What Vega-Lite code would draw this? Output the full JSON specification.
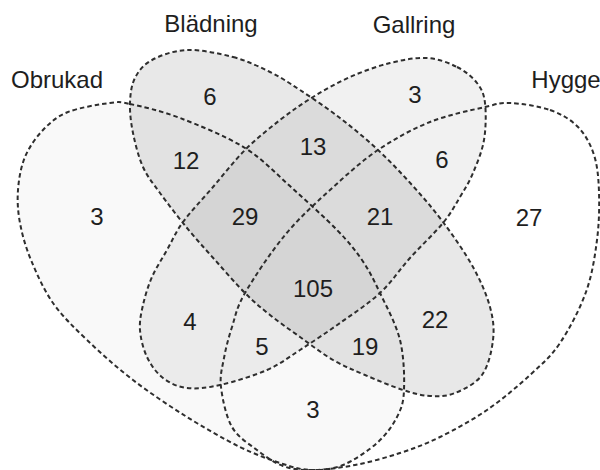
{
  "$schema": "https://vega.github.io/schema/vega-lite/v6.json",
  "width": 600,
  "height": 470,
  "autosize": "none",
  "padding": 0,
  "background": "white",
  "config": {"view": {"stroke": null}},
  "datasets": {
    "shapes": [
      {"s": "Obrukad", "i": 0, "x": 110, "y": 103},
      {"s": "Obrukad", "i": 1, "x": 130, "y": 104},
      {"s": "Obrukad", "i": 2, "x": 180, "y": 118},
      {"s": "Obrukad", "i": 3, "x": 245, "y": 148},
      {"s": "Obrukad", "i": 4, "x": 292, "y": 188},
      {"s": "Obrukad", "i": 5, "x": 337, "y": 230},
      {"s": "Obrukad", "i": 6, "x": 362, "y": 260},
      {"s": "Obrukad", "i": 7, "x": 380, "y": 293},
      {"s": "Obrukad", "i": 8, "x": 400, "y": 340},
      {"s": "Obrukad", "i": 9, "x": 404, "y": 390},
      {"s": "Obrukad", "i": 10, "x": 397, "y": 417},
      {"s": "Obrukad", "i": 11, "x": 377, "y": 443},
      {"s": "Obrukad", "i": 12, "x": 343, "y": 465},
      {"s": "Obrukad", "i": 13, "x": 312, "y": 470},
      {"s": "Obrukad", "i": 14, "x": 283, "y": 464},
      {"s": "Obrukad", "i": 15, "x": 240, "y": 447},
      {"s": "Obrukad", "i": 16, "x": 187, "y": 417},
      {"s": "Obrukad", "i": 17, "x": 133, "y": 380},
      {"s": "Obrukad", "i": 18, "x": 87, "y": 340},
      {"s": "Obrukad", "i": 19, "x": 53, "y": 303},
      {"s": "Obrukad", "i": 20, "x": 31, "y": 260},
      {"s": "Obrukad", "i": 21, "x": 20, "y": 223},
      {"s": "Obrukad", "i": 22, "x": 18, "y": 190},
      {"s": "Obrukad", "i": 23, "x": 25, "y": 157},
      {"s": "Obrukad", "i": 24, "x": 43, "y": 130},
      {"s": "Obrukad", "i": 25, "x": 68, "y": 112},

      {"s": "Blädning", "i": 0, "x": 187, "y": 50},
      {"s": "Blädning", "i": 1, "x": 233, "y": 57},
      {"s": "Blädning", "i": 2, "x": 270, "y": 72},
      {"s": "Blädning", "i": 3, "x": 300, "y": 90},
      {"s": "Blädning", "i": 4, "x": 340, "y": 118},
      {"s": "Blädning", "i": 5, "x": 378, "y": 150},
      {"s": "Blädning", "i": 6, "x": 412, "y": 185},
      {"s": "Blädning", "i": 7, "x": 443, "y": 222},
      {"s": "Blädning", "i": 8, "x": 473, "y": 267},
      {"s": "Blädning", "i": 9, "x": 490, "y": 307},
      {"s": "Blädning", "i": 10, "x": 493, "y": 340},
      {"s": "Blädning", "i": 11, "x": 482, "y": 375},
      {"s": "Blädning", "i": 12, "x": 455, "y": 393},
      {"s": "Blädning", "i": 13, "x": 430, "y": 396},
      {"s": "Blädning", "i": 14, "x": 403, "y": 390},
      {"s": "Blädning", "i": 15, "x": 365, "y": 375},
      {"s": "Blädning", "i": 16, "x": 333, "y": 360},
      {"s": "Blädning", "i": 17, "x": 300, "y": 337},
      {"s": "Blädning", "i": 18, "x": 270, "y": 315},
      {"s": "Blädning", "i": 19, "x": 245, "y": 293},
      {"s": "Blädning", "i": 20, "x": 215, "y": 260},
      {"s": "Blädning", "i": 21, "x": 187, "y": 228},
      {"s": "Blädning", "i": 22, "x": 160, "y": 193},
      {"s": "Blädning", "i": 23, "x": 143, "y": 167},
      {"s": "Blädning", "i": 24, "x": 133, "y": 133},
      {"s": "Blädning", "i": 25, "x": 130, "y": 103},
      {"s": "Blädning", "i": 26, "x": 135, "y": 78},
      {"s": "Blädning", "i": 27, "x": 152, "y": 60},

      {"s": "Gallring", "i": 0, "x": 427, "y": 58},
      {"s": "Gallring", "i": 1, "x": 457, "y": 67},
      {"s": "Gallring", "i": 2, "x": 477, "y": 83},
      {"s": "Gallring", "i": 3, "x": 485, "y": 103},
      {"s": "Gallring", "i": 4, "x": 484, "y": 140},
      {"s": "Gallring", "i": 5, "x": 473, "y": 173},
      {"s": "Gallring", "i": 6, "x": 460, "y": 197},
      {"s": "Gallring", "i": 7, "x": 443, "y": 223},
      {"s": "Gallring", "i": 8, "x": 410, "y": 258},
      {"s": "Gallring", "i": 9, "x": 380, "y": 293},
      {"s": "Gallring", "i": 10, "x": 340, "y": 323},
      {"s": "Gallring", "i": 11, "x": 300, "y": 350},
      {"s": "Gallring", "i": 12, "x": 267, "y": 370},
      {"s": "Gallring", "i": 13, "x": 220, "y": 385},
      {"s": "Gallring", "i": 14, "x": 187, "y": 388},
      {"s": "Gallring", "i": 15, "x": 163, "y": 378},
      {"s": "Gallring", "i": 16, "x": 147, "y": 357},
      {"s": "Gallring", "i": 17, "x": 140, "y": 330},
      {"s": "Gallring", "i": 18, "x": 143, "y": 305},
      {"s": "Gallring", "i": 19, "x": 152, "y": 277},
      {"s": "Gallring", "i": 20, "x": 167, "y": 250},
      {"s": "Gallring", "i": 21, "x": 183, "y": 222},
      {"s": "Gallring", "i": 22, "x": 213, "y": 187},
      {"s": "Gallring", "i": 23, "x": 245, "y": 150},
      {"s": "Gallring", "i": 24, "x": 280, "y": 120},
      {"s": "Gallring", "i": 25, "x": 313, "y": 97},
      {"s": "Gallring", "i": 26, "x": 350, "y": 77},
      {"s": "Gallring", "i": 27, "x": 390, "y": 63},

      {"s": "Hygge", "i": 0, "x": 510, "y": 103},
      {"s": "Hygge", "i": 1, "x": 550, "y": 110},
      {"s": "Hygge", "i": 2, "x": 578, "y": 127},
      {"s": "Hygge", "i": 3, "x": 594, "y": 155},
      {"s": "Hygge", "i": 4, "x": 599, "y": 192},
      {"s": "Hygge", "i": 5, "x": 597, "y": 240},
      {"s": "Hygge", "i": 6, "x": 586, "y": 292},
      {"s": "Hygge", "i": 7, "x": 560, "y": 343},
      {"s": "Hygge", "i": 8, "x": 530, "y": 375},
      {"s": "Hygge", "i": 9, "x": 487, "y": 410},
      {"s": "Hygge", "i": 10, "x": 440, "y": 437},
      {"s": "Hygge", "i": 11, "x": 400, "y": 453},
      {"s": "Hygge", "i": 12, "x": 355, "y": 465},
      {"s": "Hygge", "i": 13, "x": 312, "y": 470},
      {"s": "Hygge", "i": 14, "x": 283, "y": 466},
      {"s": "Hygge", "i": 15, "x": 257, "y": 450},
      {"s": "Hygge", "i": 16, "x": 232, "y": 427},
      {"s": "Hygge", "i": 17, "x": 221, "y": 387},
      {"s": "Hygge", "i": 18, "x": 224, "y": 358},
      {"s": "Hygge", "i": 19, "x": 232, "y": 327},
      {"s": "Hygge", "i": 20, "x": 245, "y": 293},
      {"s": "Hygge", "i": 21, "x": 285, "y": 235},
      {"s": "Hygge", "i": 22, "x": 330, "y": 190},
      {"s": "Hygge", "i": 23, "x": 378, "y": 150},
      {"s": "Hygge", "i": 24, "x": 430, "y": 122},
      {"s": "Hygge", "i": 25, "x": 485, "y": 107}
    ],
    "labels": [
      {"t": "Obrukad", "x": 57, "y": 81},
      {"t": "Blädning", "x": 211, "y": 25},
      {"t": "Gallring", "x": 414, "y": 26},
      {"t": "Hygge", "x": 566, "y": 81},
      {"t": "3", "x": 97, "y": 218},
      {"t": "6", "x": 210, "y": 98},
      {"t": "3", "x": 415, "y": 96},
      {"t": "27", "x": 529, "y": 219},
      {"t": "12", "x": 186, "y": 162},
      {"t": "13", "x": 313, "y": 148},
      {"t": "6", "x": 442, "y": 161},
      {"t": "29", "x": 245, "y": 218},
      {"t": "21", "x": 380, "y": 218},
      {"t": "105", "x": 313, "y": 290},
      {"t": "4", "x": 190, "y": 323},
      {"t": "5", "x": 262, "y": 348},
      {"t": "19", "x": 365, "y": 348},
      {"t": "22", "x": 435, "y": 321},
      {"t": "3", "x": 313, "y": 411}
    ]
  },
  "encoding": {
    "x": {"field": "x", "type": "quantitative", "scale": {"domain": [0, 600], "nice": false, "zero": false}, "axis": null},
    "y": {"field": "y", "type": "quantitative", "scale": {"domain": [0, 470], "nice": false, "zero": false, "reverse": true}, "axis": null}
  },
  "layer": [
    {
      "data": {"name": "shapes"},
      "transform": [{"filter": "datum.s === 'Obrukad'"}],
      "mark": {"type": "line", "interpolate": "cardinal-closed", "fill": "#000000", "fillOpacity": 0.025, "stroke": "#2e2e2e", "strokeWidth": 2, "strokeDash": [4.5, 3]},
      "encoding": {"order": {"field": "i", "type": "quantitative"}}
    },
    {
      "data": {"name": "shapes"},
      "transform": [{"filter": "datum.s === 'Blädning'"}],
      "mark": {"type": "line", "interpolate": "cardinal-closed", "fill": "#000000", "fillOpacity": 0.09, "stroke": "#2e2e2e", "strokeWidth": 2, "strokeDash": [4.5, 3]},
      "encoding": {"order": {"field": "i", "type": "quantitative"}}
    },
    {
      "data": {"name": "shapes"},
      "transform": [{"filter": "datum.s === 'Gallring'"}],
      "mark": {"type": "line", "interpolate": "cardinal-closed", "fill": "#000000", "fillOpacity": 0.055, "stroke": "#2e2e2e", "strokeWidth": 2, "strokeDash": [4.5, 3]},
      "encoding": {"order": {"field": "i", "type": "quantitative"}}
    },
    {
      "data": {"name": "shapes"},
      "transform": [{"filter": "datum.s === 'Hygge'"}],
      "mark": {"type": "line", "interpolate": "cardinal-closed", "fill": "#ffffff", "fillOpacity": 0, "stroke": "#2e2e2e", "strokeWidth": 2, "strokeDash": [4.5, 3]},
      "encoding": {"order": {"field": "i", "type": "quantitative"}}
    },
    {
      "data": {"name": "labels"},
      "mark": {"type": "text", "font": "Liberation Sans", "fontSize": 24, "color": "#1e1e1e", "align": "center", "baseline": "middle"},
      "encoding": {"text": {"field": "t", "type": "nominal"}}
    }
  ]
}
